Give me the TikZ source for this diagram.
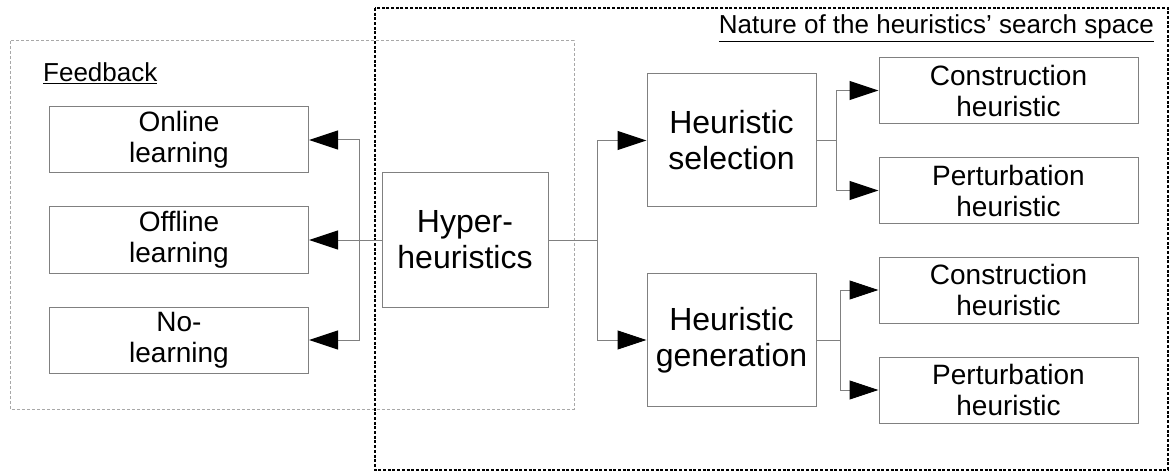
\documentclass[tikz,border=0pt]{standalone}
\usepackage{fontspec}
\setmainfont{Liberation Sans}
\usetikzlibrary{arrows.meta}
\definecolor{linegray}{HTML}{808080}
\definecolor{dashgray}{HTML}{A8A8A8}
\tikzset{
  box/.style={draw=linegray, line width=1pt, rectangle, inner sep=0pt, align=center},
  smallbox/.style={box, minimum width=259pt, minimum height=66pt, font=\fontsize{28}{31}\selectfont},
  bigbox/.style={box, minimum width=169pt, minimum height=133pt, font=\fontsize{32}{36}\selectfont},
  conn/.style={draw=linegray, line width=1pt},
  arr/.style={conn, -{Triangle[length=29pt,width=19pt,fill=black,color=black]}},
  lbl/.style={inner sep=0pt, font=\fontsize{26}{30}\selectfont},
}
\begin{document}
\begin{tikzpicture}[x=1pt,y=-1pt]
\useasboundingbox (0,0) rectangle (1172,473);
% group frames
\draw[dashgray, line width=1pt, dash pattern=on 3pt off 2pt] (10,41) rectangle (574,409);
\draw[black, line width=2pt, dash pattern=on 3pt off 1.7pt] (375,8) rectangle (1168,470);
\node[lbl, anchor=base west] (fb) at (43,82) {\underline{Feedback}};
\node[lbl, anchor=base east] (ns) at (1154,34) {\underline{Nature of the heuristics’ search space}};
% nodes
\node[smallbox] (onl) at (179,140) {Online\\learning};
\node[smallbox] (off) at (179,240) {Offline\\learning};
\node[smallbox] (nol) at (179,340) {No-\\learning};
\node[bigbox, minimum width=166pt, minimum height=134pt] (hh) at (465,240) {Hyper-\\heuristics};
\node[bigbox] (sel) at (731.5,140.5) {Heuristic\\selection};
\node[bigbox] (gen) at (731.5,340) {Heuristic\\generation};
\node[smallbox] (c1) at (1008.5,90.5) {Construction\\heuristic};
\node[smallbox] (p1) at (1008.5,190.5) {Perturbation\\heuristic};
\node[smallbox] (c2) at (1008.5,290) {Construction\\heuristic};
\node[smallbox] (p2) at (1008.5,390) {Perturbation\\heuristic};
% branch points
\coordinate (lb) at (359,240);
\coordinate (rb) at (597,240);
\coordinate (sb) at (836,140.5);
\coordinate (gb) at (840,340);
% connectors
\draw[arr] (hh.west) -- (off.east);
\draw[arr] (lb) |- (onl.east);
\draw[arr] (lb) |- (nol.east);
\draw[conn] (hh.east) -- (rb);
\draw[arr] (rb) |- (sel.west);
\draw[arr] (rb) |- (gen.west);
\draw[conn] (sel.east) -- (sb);
\draw[arr] (sb) |- (c1.west);
\draw[arr] (sb) |- (p1.west);
\draw[conn] (gen.east) -- (gb);
\draw[arr] (gb) |- (c2.west);
\draw[arr] (gb) |- (p2.west);
\end{tikzpicture}
\end{document}
